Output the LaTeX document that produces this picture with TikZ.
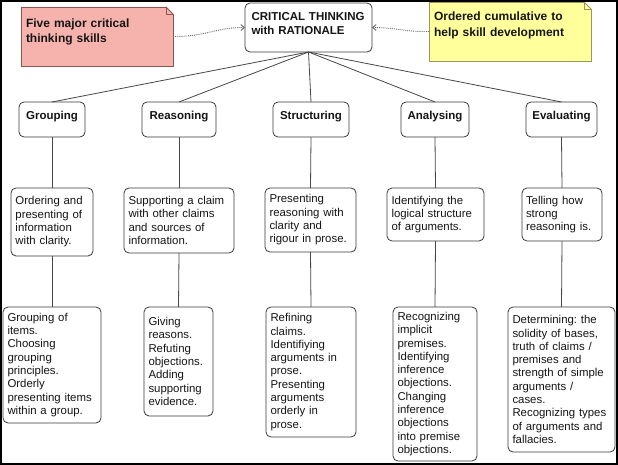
\documentclass[tikz,border=0pt]{standalone}
\usepackage{fontspec}
\setmainfont{Liberation Sans}
\usetikzlibrary{arrows.meta}
\definecolor{boxgray}{HTML}{3A3A3A}
\definecolor{linegray}{HTML}{474747}
\definecolor{txt}{HTML}{151515}
\definecolor{pinkfill}{HTML}{F6B2AC}
\definecolor{pinkline}{HTML}{8A5450}
\definecolor{yellowfill}{HTML}{FFFF9C}
\definecolor{yellowline}{HTML}{9A9858}
\definecolor{dotgray}{HTML}{6A6A6A}
\frenchspacing
\tikzset{
  every node/.append style={execute at begin node={\hyphenpenalty=10000\exhyphenpenalty=10000\frenchspacing}},
  box/.style={draw=boxgray, line width=0.8pt, rounded corners=5pt, fill=white,
    inner xsep=4.5pt, inner ysep=2pt, outer sep=0pt, align=left, text=txt,
    font=\fontsize{11.4}{13.3}\selectfont},
  head/.style={box, align=center, font=\fontsize{11.5}{13.3}\selectfont\bfseries,
    text height=8.5pt, text depth=9pt},
  topbox/.style={box, inner xsep=5pt, font=\fontsize{11.5}{14}\selectfont\bfseries},
  notebox/.style={line width=0.8pt, inner xsep=5pt, inner ysep=0pt, outer sep=0pt,
    align=left, text=txt},
  conn/.style={draw=linegray, line width=0.8pt},
  notearrow/.style={draw=dotgray, densely dotted, line width=0.9pt,
    -{Straight Barb[length=3.5pt,width=6pt]}}
}
\begin{document}
\begin{tikzpicture}[x=1pt,y=-1pt]
\useasboundingbox (0,0) rectangle (618,465);
\fill[white] (0,0) rectangle (618,465);

% top node
\node[topbox, minimum width=127pt, minimum height=49pt, text width=117pt] (top) at (308.5,27.5)
  {\hspace*{1.5pt}CRITICAL THINKING\\\hspace*{1.5pt}with RATIONALE\\[-5pt]\mbox{}};

% notes
\node[notebox, fill=pinkfill, draw=pinkline, minimum width=152pt, minimum height=59pt,
  text width=142pt, font=\fontsize{12}{15}\selectfont\bfseries] (pink) at (97,36.5)
  {Five major critical\\thinking skills\\[-4pt]\mbox{}};
\node[notebox, fill=yellowfill, draw=yellowline, minimum width=162pt, minimum height=59pt,
  text width=152pt, font=\fontsize{12}{15.5}\selectfont\bfseries] (yellow) at (510,31.5)
  {Ordered cumulative to\\help skill development\\[-1pt]\mbox{}};

% dog-ear corners
\foreach \n/\c/\f in {pink/pinkline/pinkfill, yellow/yellowline/yellowfill}{
  \fill[white] ([xshift=-7pt,yshift=1.5pt]\n.north east) -- ([xshift=1.5pt,yshift=1.5pt]\n.north east)
     -- ([xshift=1.5pt,yshift=-7pt]\n.north east) -- ([yshift=-7pt]\n.north east)
     -- ([xshift=-7pt]\n.north east) -- cycle;
  \filldraw[fill=\f, draw=\c, line width=0.8pt, line join=round]
     ([xshift=-7pt]\n.north east) -- ([xshift=-7pt,yshift=-7pt]\n.north east)
     -- ([yshift=-7pt]\n.north east);
  \draw[\c, line width=0.8pt, line cap=round] ([xshift=-7pt]\n.north east) -- ([yshift=-7pt]\n.north east);
}

% level 1
\node[head, minimum width=66pt, minimum height=35pt] (g1) at (52,119.5) {Grouping};
\node[head, minimum width=74pt, minimum height=35pt] (r1) at (179,119.5) {Reasoning};
\node[head, minimum width=76pt, minimum height=35pt] (s1) at (311,119.5) {Structuring};
\node[head, minimum width=68pt, minimum height=35pt] (a1) at (435,119.5) {Analysing};
\node[head, minimum width=71pt, minimum height=35pt] (e1) at (561.5,119.5) {Evaluating};

% level 2
\node[box, minimum width=82pt, minimum height=68pt, text width=73pt] (g2) at (52,222)
  {Ordering and\\presenting of\\information\\with clarity.};
\node[box, minimum width=110pt, minimum height=65pt, text width=101pt] (r2) at (179,220.5)
  {Supporting a claim\\with other claims\\and sources of\\information.};
\node[box, minimum width=91pt, minimum height=64pt, text width=82pt] (s2) at (310.5,220)
  {Presenting\\reasoning with\\clarity and\\rigour in prose.};
\node[box, minimum width=97pt, minimum height=53pt, text width=88pt] (a2) at (435.5,214.5)
  {Identifying the\\logical structure\\of arguments.};
\node[box, minimum width=80pt, minimum height=53pt, text width=72pt, inner xsep=4pt] (e2) at (562,214.5)
  {Telling how\\strong\\reasoning is.};

% level 3
\node[box, minimum width=98pt, minimum height=116pt, text width=89pt] (g3) at (52,365)
  {Grouping of\\items.\\Choosing\\grouping\\principles.\\Orderly\\presenting items\\within a group.};
\node[box, minimum width=69pt, minimum height=109pt, text width=60pt] (r3) at (178.5,361.5)
  {Giving\\reasons.\\Refuting\\objections.\\Adding\\supporting\\evidence.};
\node[box, minimum width=90pt, minimum height=130pt, text width=81pt] (s3) at (311,372)
  {Refining\\claims.\\Identifiying\\arguments in\\prose.\\Presenting\\arguments\\orderly in\\prose.};
\node[box, minimum width=84pt, minimum height=154pt, text width=75pt] (a3) at (435,384)
  {Recognizing\\implicit\\premises.\\Identifying\\inference\\objections.\\Changing\\inference\\objections\\into premise\\objections.};
\node[box, minimum width=107pt, minimum height=145pt, text width=98pt] (e3) at (561.5,379.5)
  {Determining: the\\solidity of bases,\\truth of claims /\\premises and\\strength of simple\\arguments /\\cases.\\Recognizing types\\of arguments and\\fallacies.};

% connectors
\foreach \n in {g,r,s,a,e}{
  \draw[conn] (top.south) -- (\n1.north);
  \draw[conn] (\n1.south) -- (\n2.north);
  \draw[conn] (\n2.south) -- (\n3.north);
}

% note arrows
\draw[notearrow] (pink.east) .. controls (205,37) and (215,27.5) .. (top.west);
\draw[notearrow] (yellow.west) .. controls (405,32) and (395,27.5) .. (top.east);

% frame
\draw[black, line width=2pt] (1,1) rectangle (617,464);
\end{tikzpicture}
\end{document}
